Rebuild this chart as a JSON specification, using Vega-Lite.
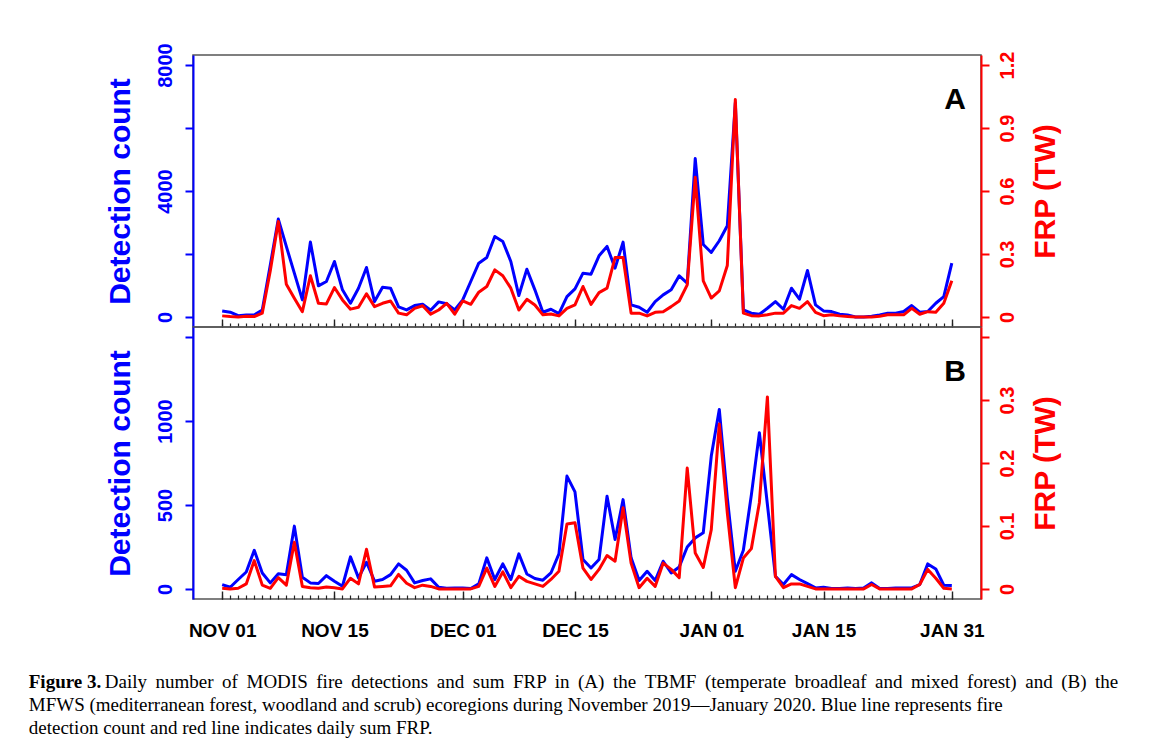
{
"$schema": "https://vega.github.io/schema/vega-lite/v6.json",
"padding": {"left": 28, "top": 42, "right": 5, "bottom": 5},
"background": "white",
"config": {"view": {"stroke": "#555555", "strokeWidth": 1.5}, "font": "Liberation Sans"},
"datasets": {
"A": [
{"date":"2019-11-01","count":191,"frp":0.005},{"date":"2019-11-02","count":150,"frp":0.002},{"date":"2019-11-03","count":40,"frp":0},{"date":"2019-11-04","count":64,"frp":0.003},{"date":"2019-11-05","count":64,"frp":0.002},{"date":"2019-11-06","count":220,"frp":0.018},{"date":"2019-11-07","count":1650,"frp":0.22},{"date":"2019-11-08","count":3109,"frp":0.455},{"date":"2019-11-09","count":2240,"frp":0.156},{"date":"2019-11-10","count":1390,"frp":0.089},
{"date":"2019-11-11","count":541,"frp":0.025},{"date":"2019-11-12","count":2377,"frp":0.196},{"date":"2019-11-13","count":987,"frp":0.065},{"date":"2019-11-14","count":1125,"frp":0.062},{"date":"2019-11-15","count":1761,"frp":0.14},{"date":"2019-11-16","count":860,"frp":0.081},{"date":"2019-11-17","count":435,"frp":0.037},{"date":"2019-11-18","count":912,"frp":0.046},{"date":"2019-11-19","count":1570,"frp":0.11},{"date":"2019-11-20","count":488,"frp":0.049},
{"date":"2019-11-21","count":944,"frp":0.065},{"date":"2019-11-22","count":912,"frp":0.076},{"date":"2019-11-23","count":318,"frp":0.018},{"date":"2019-11-24","count":223,"frp":0.01},{"date":"2019-11-25","count":361,"frp":0.041},{"date":"2019-11-26","count":403,"frp":0.053},{"date":"2019-11-27","count":212,"frp":0.013},{"date":"2019-11-28","count":477,"frp":0.033},{"date":"2019-11-29","count":420,"frp":0.065},{"date":"2019-11-30","count":223,"frp":0.013},
{"date":"2019-12-01","count":541,"frp":0.076},{"date":"2019-12-02","count":1125,"frp":0.06},{"date":"2019-12-03","count":1708,"frp":0.118},{"date":"2019-12-04","count":1889,"frp":0.145},{"date":"2019-12-05","count":2557,"frp":0.224},{"date":"2019-12-06","count":2398,"frp":0.196},{"date":"2019-12-07","count":1761,"frp":0.137},{"date":"2019-12-08","count":679,"frp":0.033},{"date":"2019-12-09","count":1517,"frp":0.084},{"date":"2019-12-10","count":860,"frp":0.057},
{"date":"2019-12-11","count":149,"frp":0.01},{"date":"2019-12-12","count":244,"frp":0.014},{"date":"2019-12-13","count":106,"frp":0.005},{"date":"2019-12-14","count":647,"frp":0.041},{"date":"2019-12-15","count":891,"frp":0.057},{"date":"2019-12-16","count":1390,"frp":0.145},{"date":"2019-12-17","count":1358,"frp":0.06},{"date":"2019-12-18","count":1942,"frp":0.116},{"date":"2019-12-19","count":2239,"frp":0.137},{"date":"2019-12-20","count":1549,"frp":0.283},
{"date":"2019-12-21","count":2377,"frp":0.283},{"date":"2019-12-22","count":382,"frp":0.018},{"date":"2019-12-23","count":308,"frp":0.018},{"date":"2019-12-24","count":149,"frp":0.005},{"date":"2019-12-25","count":488,"frp":0.022},{"date":"2019-12-26","count":700,"frp":0.025},{"date":"2019-12-27","count":860,"frp":0.049},{"date":"2019-12-28","count":1305,"frp":0.076},{"date":"2019-12-29","count":1072,"frp":0.153},{"date":"2019-12-30","count":5029,"frp":0.665},
{"date":"2019-12-31","count":2300,"frp":0.172},{"date":"2020-01-01","count":2048,"frp":0.09},{"date":"2020-01-02","count":2419,"frp":0.124},{"date":"2020-01-03","count":2897,"frp":0.245},{"date":"2020-01-04","count":6800,"frp":1.036},{"date":"2020-01-05","count":223,"frp":0.018},{"date":"2020-01-06","count":117,"frp":0.006},{"date":"2020-01-07","count":85,"frp":0.005},{"date":"2020-01-08","count":276,"frp":0.01},{"date":"2020-01-09","count":488,"frp":0.018},
{"date":"2020-01-10","count":244,"frp":0.018},{"date":"2020-01-11","count":912,"frp":0.054},{"date":"2020-01-12","count":562,"frp":0.041},{"date":"2020-01-13","count":1475,"frp":0.073},{"date":"2020-01-14","count":382,"frp":0.022},{"date":"2020-01-15","count":191,"frp":0.006},{"date":"2020-01-16","count":170,"frp":0.01},{"date":"2020-01-17","count":85,"frp":0.005},{"date":"2020-01-18","count":64,"frp":0.002},{"date":"2020-01-19","count":0,"frp":0},
{"date":"2020-01-20","count":0,"frp":0},{"date":"2020-01-21","count":21,"frp":0},{"date":"2020-01-22","count":64,"frp":0.003},{"date":"2020-01-23","count":117,"frp":0.01},{"date":"2020-01-24","count":117,"frp":0.01},{"date":"2020-01-25","count":170,"frp":0.01},{"date":"2020-01-26","count":361,"frp":0.041},{"date":"2020-01-27","count":149,"frp":0.013},{"date":"2020-01-28","count":170,"frp":0.025},{"date":"2020-01-29","count":435,"frp":0.022},
{"date":"2020-01-30","count":647,"frp":0.065},{"date":"2020-01-31","count":1708,"frp":0.172}
],
"B": [
{"date":"2019-11-01","count":26,"frp":0.001},{"date":"2019-11-02","count":10,"frp":0},{"date":"2019-11-03","count":56,"frp":0.001},{"date":"2019-11-04","count":101,"frp":0.008},{"date":"2019-11-05","count":230,"frp":0.045},{"date":"2019-11-06","count":95,"frp":0.006},{"date":"2019-11-07","count":36,"frp":0.001},{"date":"2019-11-08","count":91,"frp":0.018},{"date":"2019-11-09","count":85,"frp":0.006},{"date":"2019-11-10","count":374,"frp":0.074},
{"date":"2019-11-11","count":70,"frp":0.004},{"date":"2019-11-12","count":36,"frp":0.002},{"date":"2019-11-13","count":32,"frp":0.001},{"date":"2019-11-14","count":79,"frp":0.003},{"date":"2019-11-15","count":46,"frp":0.002},{"date":"2019-11-16","count":16,"frp":0},{"date":"2019-11-17","count":191,"frp":0.017},{"date":"2019-11-18","count":66,"frp":0.008},{"date":"2019-11-19","count":159,"frp":0.063},{"date":"2019-11-20","count":46,"frp":0.003},
{"date":"2019-11-21","count":56,"frp":0.004},{"date":"2019-11-22","count":85,"frp":0.005},{"date":"2019-11-23","count":149,"frp":0.023},{"date":"2019-11-24","count":111,"frp":0.009},{"date":"2019-11-25","count":36,"frp":0.002},{"date":"2019-11-26","count":50,"frp":0.006},{"date":"2019-11-27","count":60,"frp":0.004},{"date":"2019-11-28","count":10,"frp":0},{"date":"2019-11-29","count":4,"frp":0},{"date":"2019-11-30","count":6,"frp":0},
{"date":"2019-12-01","count":6,"frp":0},{"date":"2019-12-02","count":2,"frp":0},{"date":"2019-12-03","count":30,"frp":0.004},{"date":"2019-12-04","count":185,"frp":0.033},{"date":"2019-12-05","count":56,"frp":0.004},{"date":"2019-12-06","count":149,"frp":0.027},{"date":"2019-12-07","count":56,"frp":0.002},{"date":"2019-12-08","count":209,"frp":0.02},{"date":"2019-12-09","count":89,"frp":0.012},{"date":"2019-12-10","count":62,"frp":0.008},
{"date":"2019-12-11","count":52,"frp":0.004},{"date":"2019-12-12","count":95,"frp":0.015},{"date":"2019-12-13","count":209,"frp":0.028},{"date":"2019-12-14","count":672,"frp":0.103},{"date":"2019-12-15","count":578,"frp":0.105},{"date":"2019-12-16","count":175,"frp":0.033},{"date":"2019-12-17","count":125,"frp":0.015},{"date":"2019-12-18","count":175,"frp":0.031},{"date":"2019-12-19","count":552,"frp":0.053},{"date":"2019-12-20","count":294,"frp":0.044},
{"date":"2019-12-21","count":532,"frp":0.129},{"date":"2019-12-22","count":185,"frp":0.041},{"date":"2019-12-23","count":50,"frp":0.002},{"date":"2019-12-24","count":105,"frp":0.017},{"date":"2019-12-25","count":50,"frp":0.004},{"date":"2019-12-26","count":165,"frp":0.041},{"date":"2019-12-27","count":95,"frp":0.031},{"date":"2019-12-28","count":131,"frp":0.018},{"date":"2019-12-29","count":250,"frp":0.192},{"date":"2019-12-30","count":304,"frp":0.057},
{"date":"2019-12-31","count":334,"frp":0.034},{"date":"2020-01-01","count":791,"frp":0.094},{"date":"2020-01-02","count":1069,"frp":0.262},{"date":"2020-01-03","count":542,"frp":0.121},{"date":"2020-01-04","count":105,"frp":0.002},{"date":"2020-01-05","count":230,"frp":0.049},{"date":"2020-01-06","count":560,"frp":0.064},{"date":"2020-01-07","count":930,"frp":0.137},{"date":"2020-01-08","count":503,"frp":0.305},{"date":"2020-01-09","count":75,"frp":0.02},
{"date":"2020-01-10","count":26,"frp":0.002},{"date":"2020-01-11","count":85,"frp":0.008},{"date":"2020-01-12","count":56,"frp":0.008},{"date":"2020-01-13","count":32,"frp":0.004},{"date":"2020-01-14","count":6,"frp":0},{"date":"2020-01-15","count":10,"frp":0},{"date":"2020-01-16","count":2,"frp":0},{"date":"2020-01-17","count":2,"frp":0},{"date":"2020-01-18","count":6,"frp":0},{"date":"2020-01-19","count":2,"frp":0},
{"date":"2020-01-20","count":6,"frp":0},{"date":"2020-01-21","count":36,"frp":0.007},{"date":"2020-01-22","count":2,"frp":0},{"date":"2020-01-23","count":2,"frp":0},{"date":"2020-01-24","count":6,"frp":0},{"date":"2020-01-25","count":6,"frp":0},{"date":"2020-01-26","count":6,"frp":0},{"date":"2020-01-27","count":26,"frp":0.007},{"date":"2020-01-28","count":149,"frp":0.031},{"date":"2020-01-29","count":119,"frp":0.017},
{"date":"2020-01-30","count":22,"frp":0.001},{"date":"2020-01-31","count":20,"frp":0}
]
},
"spacing": 0,
"bounds": "flush",
"title": {
"text": "Figure 3.",
"subtitle": ["\u200b\u00a0\u00a0\u00a0\u00a0\u00a0\u00a0\u00a0\u00a0\u00a0\u00a0\u00a0\u00a0\u00a0\u00a0\u00a0\u00a0Daily \u2009number \u2009of \u2009MODIS \u2009fire \u2009detections \u2009and \u2009sum \u2009FRP \u2009in \u2009(A) \u2009the \u2009TBMF \u2009(temperate \u2009broadleaf \u2009and \u2009mixed \u2009forest) \u2009and \u2009(B) \u2009the", "MFWS (mediterranean forest, woodland and scrub) ecoregions during November 2019\u2014January 2020. Blue line represents fire", "detection count and red line indicates daily sum FRP."],
"orient": "bottom", "anchor": "start", "frame": "bounds",
"font": "Liberation Serif", "fontSize": 19, "fontWeight": "bold", "color": "black",
"subtitleFont": "Liberation Serif", "subtitleFontSize": 19, "subtitleFontWeight": "normal", "subtitleColor": "black", "subtitleLineHeight": 23, "subtitlePadding": -19,
"offset": 32, "dx": -76
},
"vconcat": [
{
"width": 788, "height": 272,
"data": {"name": "A"},
"layer": [
{"mark": {"type": "line", "color": "#0000FF", "strokeWidth": 3, "strokeJoin": "round"},
"encoding": {
"x": {"field": "date", "type": "temporal", "scale": {"type": "utc", "domain": [1572251904000, 1580743296000]},
"axis": {"orient": "bottom", "title": null, "labels": false, "domain": false, "grid": false, "tickColor": "#222222", "tickWidth": 1.2, "tickSize": -4,
"values": [1572566400000,1572652800000,1572739200000,1572825600000,1572912000000,1572998400000,1573084800000,1573171200000,1573257600000,1573344000000,1573430400000,1573516800000,1573603200000,1573689600000,1573776000000,1573862400000,1573948800000,1574035200000,1574121600000,1574208000000,1574294400000,1574380800000,1574467200000,1574553600000,1574640000000,1574726400000,1574812800000,1574899200000,1574985600000,1575072000000,1575158400000,1575244800000,1575331200000,1575417600000,1575504000000,1575590400000,1575676800000,1575763200000,1575849600000,1575936000000,1576022400000,1576108800000,1576195200000,1576281600000,1576368000000,1576454400000,1576540800000,1576627200000,1576713600000,1576800000000,1576886400000,1576972800000,1577059200000,1577145600000,1577232000000,1577318400000,1577404800000,1577491200000,1577577600000,1577664000000,1577750400000,1577836800000,1577923200000,1578009600000,1578096000000,1578182400000,1578268800000,1578355200000,1578441600000,1578528000000,1578614400000,1578700800000,1578787200000,1578873600000,1578960000000,1579046400000,1579132800000,1579219200000,1579305600000,1579392000000,1579478400000,1579564800000,1579651200000,1579737600000,1579824000000,1579910400000,1579996800000,1580083200000,1580169600000,1580256000000,1580342400000,1580428800000]}},
"y": {"field": "count", "type": "quantitative", "scale": {"domain": [-320, 8320], "nice": false, "zero": false},
"axis": {"title": "Detection count", "values": [0, 2000, 4000, 6000, 8000], "format": "d", "labelExpr": "datum.value % 4000 == 0 ? datum.label : ''",
"labelAngle": -90, "labelAlign": "center", "labelBaseline": "alphabetic", "labelFontSize": 20, "labelFontWeight": "bold", "labelColor": "#0000FF", "labelPadding": 14, "labelOverlap": false, "labelFlush": false,
"tickSize": 8, "tickWidth": 2, "tickColor": "#0000FF", "domainColor": "#0000FF", "domainWidth": 2, "grid": false,
"titleColor": "#0000FF", "titleFontSize": 30, "titleFontWeight": "bold", "titleAngle": 270, "titleBaseline": "alphabetic", "titlePadding": 25.5}}
}},
{"mark": {"type": "line", "color": "#FF0000", "strokeWidth": 3, "strokeJoin": "round"},
"encoding": {
"x": {"field": "date", "type": "temporal",
"axis": {"orient": "bottom", "title": null, "labels": false, "domain": false, "grid": false, "tickColor": "#222222", "tickWidth": 1.4, "tickSize": -8,
"values": [1572566400000, 1573776000000, 1575158400000, 1576368000000, 1577836800000, 1579046400000, 1580428800000]}},
"y": {"field": "frp", "type": "quantitative", "scale": {"domain": [-0.048, 1.248], "nice": false, "zero": false},
"axis": {"orient": "right", "title": "FRP (TW)", "values": [0, 0.3, 0.6, 0.9, 1.2], "labelExpr": "datum.value == 0 ? '0' : format(datum.value, '.1f')",
"labelAngle": -90, "labelAlign": "center", "labelBaseline": "alphabetic", "labelFontSize": 20, "labelFontWeight": "bold", "labelColor": "#FF0000", "labelPadding": 24.5, "labelOverlap": false, "labelFlush": false,
"tickSize": 8, "tickWidth": 2, "tickColor": "#FF0000", "domainColor": "#FF0000", "domainWidth": 2, "grid": false,
"titleColor": "#FF0000", "titleFontSize": 30, "titleFontWeight": "bold", "titleAngle": 270, "titleBaseline": "alphabetic", "titlePadding": 37}}
}},
{"data": {"values": [{"panel": "A"}]},
"mark": {"type": "text", "fontSize": 30, "fontWeight": "bold", "align": "right", "baseline": "alphabetic", "color": "black"},
"encoding": {
"x": {"datum": {"year": 2020, "month": 2, "date": 1, "hours": 18, "utc": true}, "type": "temporal", "axis": null},
"y": {"datum": 6600, "type": "quantitative", "scale": {"domain": [-320, 8320], "nice": false, "zero": false}, "axis": null},
"text": {"field": "panel"}
}}
],
"resolve": {"scale": {"y": "independent"}, "axis": {"x": "independent"}}
},
{
"width": 788, "height": 272,
"data": {"name": "B"},
"layer": [
{"mark": {"type": "line", "color": "#0000FF", "strokeWidth": 3, "strokeJoin": "round"},
"encoding": {
"x": {"field": "date", "type": "temporal", "scale": {"type": "utc", "domain": [1572251904000, 1580743296000]},
"axis": {"orient": "bottom", "title": null, "labels": false, "domain": false, "grid": false, "tickColor": "#222222", "tickWidth": 1.2, "tickSize": -4,
"values": [1572566400000,1572652800000,1572739200000,1572825600000,1572912000000,1572998400000,1573084800000,1573171200000,1573257600000,1573344000000,1573430400000,1573516800000,1573603200000,1573689600000,1573776000000,1573862400000,1573948800000,1574035200000,1574121600000,1574208000000,1574294400000,1574380800000,1574467200000,1574553600000,1574640000000,1574726400000,1574812800000,1574899200000,1574985600000,1575072000000,1575158400000,1575244800000,1575331200000,1575417600000,1575504000000,1575590400000,1575676800000,1575763200000,1575849600000,1575936000000,1576022400000,1576108800000,1576195200000,1576281600000,1576368000000,1576454400000,1576540800000,1576627200000,1576713600000,1576800000000,1576886400000,1576972800000,1577059200000,1577145600000,1577232000000,1577318400000,1577404800000,1577491200000,1577577600000,1577664000000,1577750400000,1577836800000,1577923200000,1578009600000,1578096000000,1578182400000,1578268800000,1578355200000,1578441600000,1578528000000,1578614400000,1578700800000,1578787200000,1578873600000,1578960000000,1579046400000,1579132800000,1579219200000,1579305600000,1579392000000,1579478400000,1579564800000,1579651200000,1579737600000,1579824000000,1579910400000,1579996800000,1580083200000,1580169600000,1580256000000,1580342400000,1580428800000]}},
"y": {"field": "count", "type": "quantitative", "scale": {"domain": [-60, 1560], "nice": false, "zero": false},
"axis": {"title": "Detection count", "values": [0, 500, 1000, 1500], "format": "d", "labelExpr": "datum.value < 1200 ? datum.label : ''",
"labelAngle": -90, "labelAlign": "center", "labelBaseline": "alphabetic", "labelFontSize": 20, "labelFontWeight": "bold", "labelColor": "#0000FF", "labelPadding": 14, "labelOverlap": false, "labelFlush": false,
"tickSize": 8, "tickWidth": 2, "tickColor": "#0000FF", "domainColor": "#0000FF", "domainWidth": 2, "grid": false,
"titleColor": "#0000FF", "titleFontSize": 30, "titleFontWeight": "bold", "titleAngle": 270, "titleBaseline": "alphabetic", "titlePadding": 25.5}}
}},
{"mark": {"type": "line", "color": "#FF0000", "strokeWidth": 3, "strokeJoin": "round"},
"encoding": {
"x": {"field": "date", "type": "temporal",
"axis": {"orient": "bottom", "title": null, "domain": false, "grid": false, "tickColor": "#222222", "tickWidth": 1.4, "tickSize": -8,
"values": [1572566400000, 1573776000000, 1575158400000, 1576368000000, 1577836800000, 1579046400000, 1580428800000],
"labelExpr": "upper(utcFormat(datum.value, '%b %d'))",
"labelFontSize": 19, "labelFontWeight": "bold", "labelColor": "black", "labelPadding": 30, "labelOverlap": false, "labelFlush": false, "labelBaseline": "top"}},
"y": {"field": "frp", "type": "quantitative", "scale": {"domain": [-0.016, 0.416], "nice": false, "zero": false},
"axis": {"orient": "right", "title": "FRP (TW)", "values": [0, 0.1, 0.2, 0.3, 0.4], "labelExpr": "datum.value == 0 ? '0' : (datum.value > 0.35 ? '' : format(datum.value, '.1f'))",
"labelAngle": -90, "labelAlign": "center", "labelBaseline": "alphabetic", "labelFontSize": 20, "labelFontWeight": "bold", "labelColor": "#FF0000", "labelPadding": 24.5, "labelOverlap": false, "labelFlush": false,
"tickSize": 8, "tickWidth": 2, "tickColor": "#FF0000", "domainColor": "#FF0000", "domainWidth": 2, "grid": false,
"titleColor": "#FF0000", "titleFontSize": 30, "titleFontWeight": "bold", "titleAngle": 270, "titleBaseline": "alphabetic", "titlePadding": 37}}
}},
{"data": {"values": [{"panel": "B"}]},
"mark": {"type": "text", "fontSize": 30, "fontWeight": "bold", "align": "right", "baseline": "alphabetic", "color": "black"},
"encoding": {
"x": {"datum": {"year": 2020, "month": 2, "date": 1, "hours": 18, "utc": true}, "type": "temporal", "axis": null},
"y": {"datum": 1240, "type": "quantitative", "scale": {"domain": [-60, 1560], "nice": false, "zero": false}, "axis": null},
"text": {"field": "panel"}
}}
],
"resolve": {"scale": {"y": "independent"}, "axis": {"x": "independent"}}
}
]
}
